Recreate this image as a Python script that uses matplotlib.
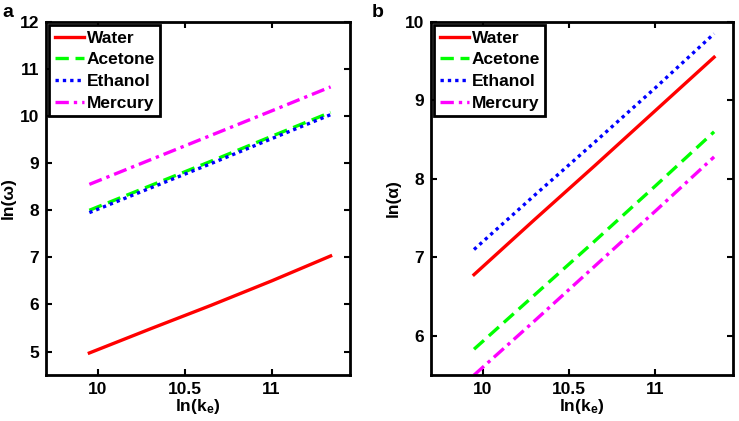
import matplotlib.pyplot as plt

plt.rcParams['font.family'] = ['Liberation Sans', 'DejaVu Sans']
plt.rcParams['font.weight'] = 'bold'
plt.rcParams['mathtext.fontset'] = 'custom'
plt.rcParams['mathtext.bf'] = 'Liberation Sans:bold'
plt.rcParams['mathtext.rm'] = 'Liberation Sans:bold'
plt.rcParams['mathtext.default'] = 'bf'

# ln(k_e) sample points
ke = [9.95, 10.3, 10.65, 11.0, 11.34]

# panel a: ln(omega)
omega_water = [4.97, 5.48, 5.98, 6.50, 7.03]
omega_acetone = [8.00, 8.52, 9.04, 9.57, 10.08]
omega_ethanol = [7.95, 8.47, 8.99, 9.52, 10.03]
omega_mercury = [8.55, 9.07, 9.59, 10.11, 10.62]

# panel b: ln(alpha)
alpha_water = [6.78, 7.48, 8.17, 8.87, 9.55]
alpha_acetone = [5.83, 6.52, 7.21, 7.91, 8.60]
alpha_ethanol = [7.10, 7.79, 8.47, 9.16, 9.85]
alpha_mercury = [5.50, 6.19, 6.89, 7.59, 8.28]

names = ['Water', 'Acetone', 'Ethanol', 'Mercury']
colors = ['#ff0000', '#00ff00', '#0000ff', '#ff00ff']
styles = ['-', (0, (4, 2)), (0, (1, 1.2)), (0, (4, 1.5, 1, 1.5))]

fig = plt.figure(figsize=(7.39, 4.21), dpi=100)
ax1 = fig.add_axes([0.0622, 0.109, 0.411, 0.839])
ax2 = fig.add_axes([0.583, 0.109, 0.409, 0.839])

panels = [
    (ax1, [omega_water, omega_acetone, omega_ethanol, omega_mercury], (4.5, 12), range(5, 13), 'ln(ω)', 'a'),
    (ax2, [alpha_water, alpha_acetone, alpha_ethanol, alpha_mercury], (5.5, 10), range(6, 11), 'ln(α)', 'b'),
]

for ax, series, ylim, yticks, ylab, tag in panels:
    for vals, name, c, ls in zip(series, names, colors, styles):
        ax.plot(ke, vals, color=c, linestyle=ls, linewidth=2.4, label=name)
    ax.set_xlim(9.7, 11.45)
    ax.set_ylim(*ylim)
    ax.set_xticks([10, 10.5, 11])
    ax.set_xticklabels(['10', '10.5', '11'])
    ax.set_yticks(list(yticks))
    ax.tick_params(direction='in', top=True, right=True, length=4, width=1.5,
                   labelsize=12.5, pad=5)
    for lab in ax.get_xticklabels() + ax.get_yticklabels():
        lab.set_fontweight('bold')
    for sp in ax.spines.values():
        sp.set_linewidth(2)
    ax.set_xlabel(r'ln(k$_\mathbf{e}$)', fontsize=12.5, fontweight='bold', labelpad=0)
    ax.set_ylabel(ylab, fontsize=12.5, fontweight='bold', labelpad=3)
    leg = ax.legend(loc='upper left', fontsize=12.5, handlelength=1.7, handletextpad=0.15,
                    borderpad=0.3, labelspacing=0.38, borderaxespad=0.2, fancybox=False,
                    framealpha=1)
    leg.get_frame().set_edgecolor('black')
    leg.get_frame().set_linewidth(2)
    for t in leg.get_texts():
        t.set_fontweight('bold')

fig.text(0.003, 0.99, 'a', fontsize=14, fontweight='bold', va='top')
fig.text(0.503, 0.99, 'b', fontsize=14, fontweight='bold', va='top')

fig.savefig('out.png', dpi=100)
